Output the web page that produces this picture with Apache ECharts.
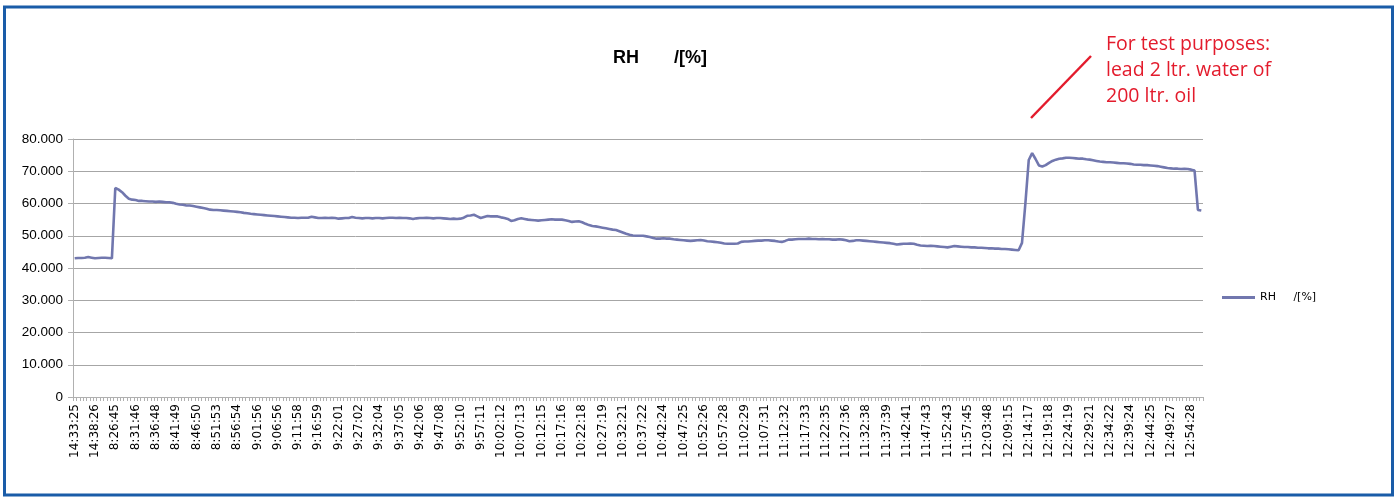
<!DOCTYPE html>
<html>
<head>
<meta charset="utf-8">
<title>RH /[%]</title>
<script src="https://cdn.jsdelivr.net/npm/echarts@6.0.0/dist/echarts.min.js"></script>
<style>
  html, body { margin: 0; padding: 0; background: #ffffff; }
  #chart { width: 1400px; height: 498px; }
</style>
</head>
<body>
<div id="chart"></div>
<script>
// Relative humidity log: one reading per category, a time label on every 6th reading.
const seriesName = 'RH     /[%]';

const tickLabels = [
  '14:33:25', '14:38:26', '8:26:45', '8:31:46', '8:36:48', '8:41:49', '8:46:50', '8:51:53',
  '8:56:54', '9:01:56', '9:06:56', '9:11:58', '9:16:59', '9:22:01', '9:27:02', '9:32:04',
  '9:37:05', '9:42:06', '9:47:08', '9:52:10', '9:57:11', '10:02:12', '10:07:13', '10:12:15',
  '10:17:16', '10:22:18', '10:27:19', '10:32:21', '10:37:22', '10:42:24', '10:47:25', '10:52:26',
  '10:57:28', '11:02:29', '11:07:31', '11:12:32', '11:17:33', '11:22:35', '11:27:36', '11:32:38',
  '11:37:39', '11:42:41', '11:47:43', '11:52:43', '11:57:45', '12:03:48', '12:09:15', '12:14:17',
  '12:19:18', '12:24:19', '12:29:21', '12:34:22', '12:39:24', '12:44:25', '12:49:27', '12:54:28'
];
const labelEvery = 6;

const rhValues = [
  43.0, 43.1, 43.1, 43.2, 43.4, 43.2, 43.0, 43.1, 43.2, 43.2,
  43.1, 43.0, 64.8, 64.3, 63.5, 62.4, 61.5, 61.2, 61.1, 60.8,
  60.8, 60.7, 60.6, 60.6, 60.5, 60.6, 60.5, 60.4, 60.4, 60.2,
  59.9, 59.7, 59.6, 59.4, 59.4, 59.2, 59.0, 58.8, 58.6, 58.4,
  58.1, 58.0, 58.0, 57.9, 57.8, 57.7, 57.6, 57.5, 57.4, 57.3,
  57.1, 57.0, 56.8, 56.7, 56.6, 56.5, 56.4, 56.3, 56.2, 56.1,
  56.0, 55.9, 55.8, 55.7, 55.6, 55.6, 55.5, 55.6, 55.6, 55.6,
  55.9, 55.7, 55.5, 55.5, 55.6, 55.5, 55.6, 55.5, 55.3, 55.4,
  55.5, 55.5, 55.8, 55.6, 55.5, 55.4, 55.5, 55.5, 55.4, 55.5,
  55.5, 55.4, 55.5, 55.6, 55.6, 55.5, 55.6, 55.5, 55.5, 55.4,
  55.2, 55.4, 55.5, 55.5, 55.6, 55.5, 55.4, 55.5, 55.5, 55.4,
  55.3, 55.2, 55.3, 55.2, 55.3, 55.6, 56.2, 56.3, 56.5, 56.0,
  55.5, 55.8, 56.1, 56.0, 56.0, 56.0, 55.7, 55.5, 55.2, 54.6,
  54.8, 55.2, 55.4, 55.2, 55.0, 54.9, 54.8, 54.7, 54.8, 54.9,
  55.0, 55.1, 55.0, 55.0, 55.0, 54.8, 54.6, 54.3, 54.4, 54.5,
  54.2, 53.7, 53.3, 53.0, 52.9, 52.7, 52.5, 52.3, 52.1, 51.9,
  51.8, 51.4, 51.0, 50.6, 50.3, 50.1, 50.0, 50.0, 50.0, 49.8,
  49.6, 49.3, 49.1, 49.1, 49.2, 49.1, 49.1, 48.9, 48.8, 48.7,
  48.6, 48.5, 48.4, 48.5, 48.6, 48.7, 48.5, 48.3, 48.2, 48.1,
  48.0, 47.8, 47.6, 47.5, 47.5, 47.5, 47.6, 48.1, 48.2, 48.2,
  48.3, 48.4, 48.5, 48.5, 48.6, 48.6, 48.5, 48.4, 48.2, 48.1,
  48.4, 48.8, 48.8, 48.9, 49.0, 49.0, 49.0, 49.1, 49.0, 49.0,
  48.9, 49.0, 48.9, 48.9, 48.8, 48.8, 48.9, 48.8, 48.6, 48.3,
  48.4, 48.6, 48.6, 48.5, 48.4, 48.3, 48.2, 48.1, 48.0, 47.9,
  47.8, 47.7, 47.5, 47.3, 47.4, 47.5, 47.5, 47.6, 47.5, 47.2,
  47.0, 46.9, 46.8, 46.9, 46.8, 46.7, 46.6, 46.5, 46.4, 46.6,
  46.8, 46.7, 46.6, 46.5, 46.5, 46.4, 46.4, 46.3, 46.3, 46.2,
  46.1, 46.1, 46.0, 46.0, 45.9, 45.9, 45.8, 45.7, 45.6, 45.5,
  47.8, 60.0, 73.5, 75.6, 73.8, 71.8, 71.5, 71.9, 72.6, 73.2,
  73.6, 73.9, 74.0, 74.2, 74.2, 74.1, 74.0, 73.9, 73.9, 73.7,
  73.6, 73.4, 73.2, 73.0, 72.9, 72.8, 72.8, 72.7, 72.6, 72.5,
  72.5, 72.4, 72.3, 72.1, 72.0, 72.0, 71.9, 71.9, 71.8, 71.7,
  71.6, 71.4, 71.2, 71.0, 70.9, 70.8, 70.8, 70.7, 70.8, 70.7,
  70.5, 70.2, 58.0, 57.8
];

const noteLines = ['For test purposes:', 'lead 2 ltr. water of', '200 ltr. oil'];

// One category per reading; only every 6th one carries a time label.
const categories = rhValues.map((_, i) => 'r' + i);

const chart = echarts.init(document.getElementById('chart'), null, { renderer: 'canvas' });

const gridColor = '#a6a6a6';
const lineColor = '#7177ae';
const noteColor = '#e31b2c';

chart.setOption({
  animation: false,
  backgroundColor: '#ffffff',
  title: {
    text: 'RH       /[%]',
    left: 608,
    top: 44,
    textStyle: { fontFamily: 'Liberation Sans', fontWeight: 'bold', fontSize: 18, color: '#000000' }
  },
  legend: {
    left: 1217,
    top: 287,
    itemWidth: 33,
    itemHeight: 3,
    itemGap: 4,
    textStyle: { fontFamily: 'DejaVu Sans', fontSize: 11, color: '#000000' },
    data: [{ name: seriesName, icon: 'rect', itemStyle: { color: lineColor } }]
  },
  grid: { left: 73, right: 197, top: 139, bottom: 101, containLabel: false },
  xAxis: {
    type: 'category',
    data: categories,
    boundaryGap: true,
    axisLine: { show: true, lineStyle: { color: '#b0b0b0', width: 1 } },
    axisTick: { show: true, interval: 0, length: 4, lineStyle: { color: '#b0b0b0' } },
    axisLabel: {
      interval: labelEvery - 1,
      rotate: 90,
      margin: 7,
      fontFamily: 'DejaVu Sans',
      fontSize: 12,
      color: '#000000',
      formatter: (value, index) => (index % labelEvery === 0 ? tickLabels[index / labelEvery] : '')
    },
    splitLine: { show: false }
  },
  yAxis: {
    type: 'value',
    min: 0,
    max: 80,
    interval: 10,
    axisLine: { show: true, lineStyle: { color: '#b0b0b0', width: 1 } },
    axisTick: { show: true, length: 5, lineStyle: { color: '#b0b0b0' } },
    axisLabel: {
      margin: 10,
      fontFamily: 'Liberation Sans',
      fontSize: 13.5,
      color: '#000000',
      formatter: v => (v === 0 ? '0' : v.toFixed(3))
    },
    splitLine: { show: true, lineStyle: { color: gridColor, width: 1 } }
  },
  series: [{
    name: seriesName,
    type: 'line',
    data: rhValues,
    symbol: 'none',
    smooth: false,
    lineStyle: { color: lineColor, width: 2.6 },
    itemStyle: { color: lineColor }
  }],
  graphic: [
    {
      type: 'rect',
      shape: { x: 4.5, y: 7, width: 1388, height: 488 },
      style: { fill: 'none', stroke: '#1a5ca8', lineWidth: 3 },
      silent: true
    },
    {
      type: 'line',
      shape: { x1: 1031, y1: 118, x2: 1091, y2: 56 },
      style: { stroke: noteColor, lineWidth: 2.5 },
      silent: true
    },
    {
      type: 'text',
      left: 1106,
      top: 31,
      style: {
        text: noteLines.join('\n'),
        fill: noteColor,
        font: '19.5px "Open Sans"',
        lineHeight: 26
      },
      silent: true
    }
  ]
});
</script>
</body>
</html>
